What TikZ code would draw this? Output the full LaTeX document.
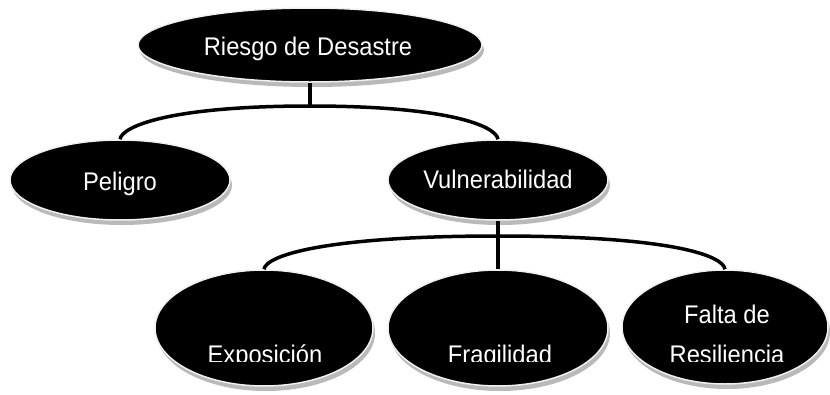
\documentclass[tikz,border=0pt]{standalone}
\usepackage{fontspec}
\setmainfont[FakeStretch=0.93]{Liberation Sans}
\usepackage{tikz}
\usetikzlibrary{shapes.geometric, shadows}

\begin{document}
\begin{tikzpicture}[x=1pt, y=-1pt,
    bubble/.style={ellipse, fill=black, draw=gray!12, line width=1.5pt, inner sep=0pt,
        drop shadow={shadow xshift=2pt, shadow yshift=-5pt, fill=gray!55, opacity=1}},
    lbl/.style={text=white, anchor=base, align=center, inner sep=0pt,
        font=\fontsize{25.5}{40}\selectfont},
    link/.style={line width=3.5pt}]
        \useasboundingbox (0,0) rectangle (830,394);
        % Ellipses
        \node[bubble, minimum width=344, minimum height=74] (riesgo) at (310,45) {};
        \node[bubble, minimum width=220, minimum height=80] (peligro) at (120,180) {};
        \node[bubble, minimum width=220, minimum height=80] (vulner) at (498,180) {};
        \node[bubble, minimum width=218, minimum height=116] (expo) at (264,328) {};
        \node[bubble, minimum width=220, minimum height=116] (fragil) at (498,328) {};
        \node[bubble, minimum width=206, minimum height=114] (falta) at (725,327) {};
        % Branch points
        \coordinate (hub1) at (310,106);
        \coordinate (hub2) at (498,236);
        % Connectors
        \draw[link] (riesgo.south) -- (hub1);
        \draw[link] (peligro.north) .. controls +(2,-13) and +(-140,0) .. (hub1)
            .. controls +(140,0) and +(-2,-13) .. (vulner.north);
        \draw[link] (vulner.south) -- (fragil.north);
        \draw[link] (expo.north) .. controls +(2,-14) and +(-172,0) .. (hub2)
            .. controls +(172,0) and +(-2,-14) .. (falta.north);
        % Labels
        \begin{scope}
            \clip (0,0) rectangle (830,361);
            \node[lbl] (tRiesgo) at (308,55) {Riesgo de Desastre};
            \node[lbl] (tPeligro) at (120,190) {Peligro};
            \node[lbl] (tVulner) at (498,188) {Vulnerabilidad};
            \node[lbl] (tExpo) at (265,363) {Exposición};
            \node[lbl] (tFragil) at (500,363) {Fragilidad};
            \node[lbl] (tFalta) at (727,363) {Falta de\\Resiliencia};
        \end{scope}
\end{tikzpicture}
\end{document}
